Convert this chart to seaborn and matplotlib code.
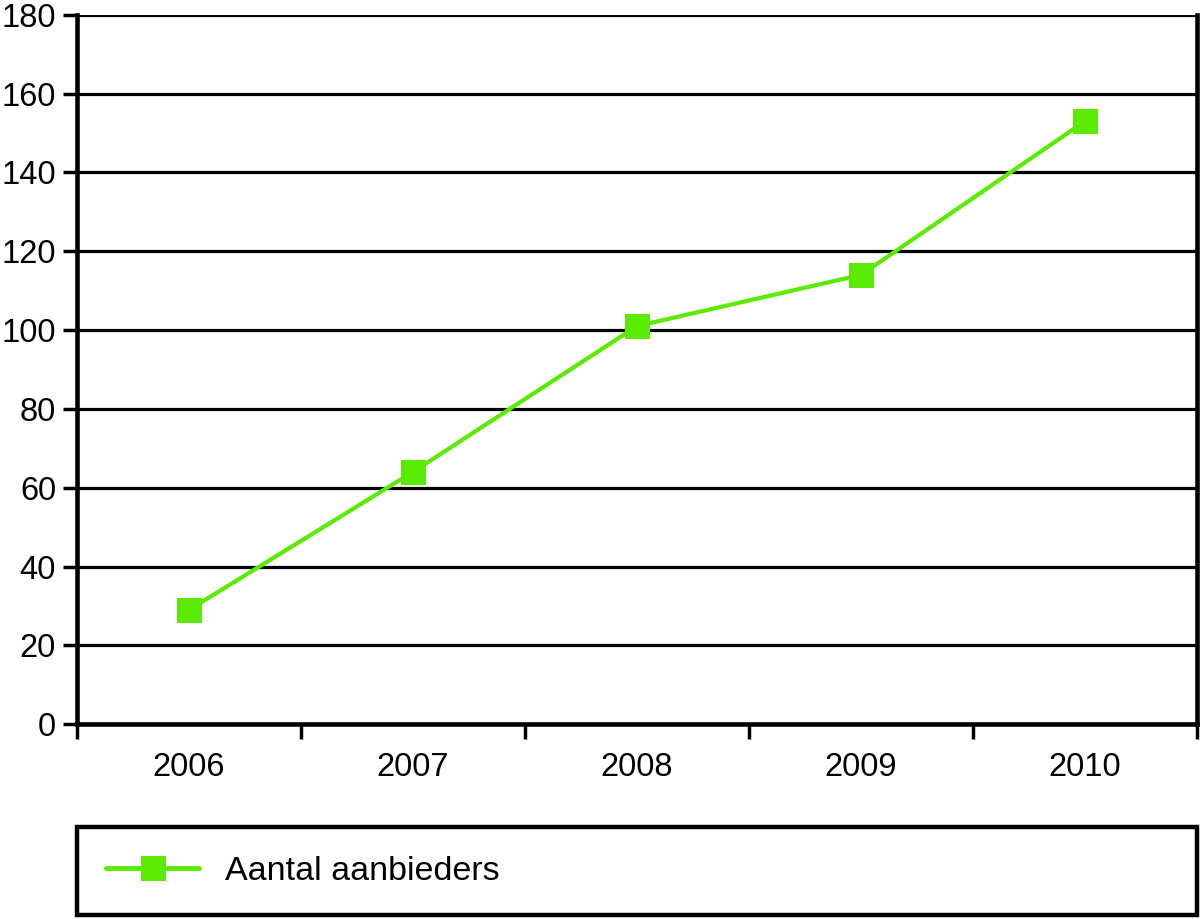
import matplotlib
matplotlib.use("Agg")
import matplotlib.pyplot as plt
import seaborn as sns
import pandas as pd
import numpy as np

years = ["2006", "2007", "2008", "2009", "2010"]
values = [29, 64, 101, 114, 153]
series_name = "Aantal aanbieders"
y_ticks = [0, 20, 40, 60, 80, 100, 120, 140, 160, 180]

sns.set_theme(style="white")
plt.rcParams['font.family'] = ['Liberation Sans', 'DejaVu Sans']
plt.rcParams['text.color'] = 'black'
plt.rcParams['xtick.color'] = 'black'
plt.rcParams['ytick.color'] = 'black'

green = "#5BEB00"
df = pd.DataFrame({"x": np.arange(len(years)), "y": values})

fig = plt.figure(figsize=(12.02, 9.19), dpi=100)
ax = fig.add_axes([0.064, 0.212, 0.932, 0.772])

sns.lineplot(data=df, x="x", y="y", ax=ax, color=green, linewidth=3,
             marker="s", markersize=18, markeredgewidth=0, label=series_name,
             legend=False)

ax.set_xlim(-0.5, len(years) - 0.5)
ax.set_ylim(0, 180)
ax.set_yticks(y_ticks)
ax.set_yticklabels([str(t) for t in y_ticks], fontsize=23.5, color="black")
ax.yaxis.grid(True, color="black", linewidth=2.3)
ax.set_axisbelow(True)

ax.set_xticks(np.arange(-0.5, len(years), 1.0))
ax.set_xticklabels([])
ax.set_xticks(np.arange(len(years)), minor=True)
ax.set_xticklabels(years, minor=True, fontsize=23.5, color="black")
ax.tick_params(axis="x", which="major", length=11, width=2.5, color="black", direction="out", bottom=True)
ax.tick_params(axis="x", which="minor", length=0, pad=20)
ax.tick_params(axis="y", which="major", length=10, width=2.5, color="black", direction="out", left=True, pad=5)
ax.set_xlabel("")
ax.set_ylabel("")

for side in ["left", "bottom", "right"]:
    ax.spines[side].set_visible(True)
    ax.spines[side].set_color("black")
    ax.spines[side].set_linewidth(3.3)
ax.spines["top"].set_visible(False)

handles, labels = ax.get_legend_handles_labels()
leg = fig.legend(handles, labels, loc="center left",
                 bbox_to_anchor=(0.064, 1 - 916 / 919, 0.932, 90 / 919), mode="expand",
                 fontsize=24.5, frameon=True, fancybox=False, edgecolor="black",
                 framealpha=1.0,
                 handlelength=2.75, handletextpad=0.75, borderaxespad=0,
                 borderpad=0.85)
for t in leg.get_texts():
    t.set_color("black")
for h in leg.get_lines():
    h.set_linewidth(3.5)
leg.get_frame().set_linewidth(3.2)
leg.get_frame().set_boxstyle("square", pad=0)

fig.savefig("out.png", dpi=100, facecolor="white")
